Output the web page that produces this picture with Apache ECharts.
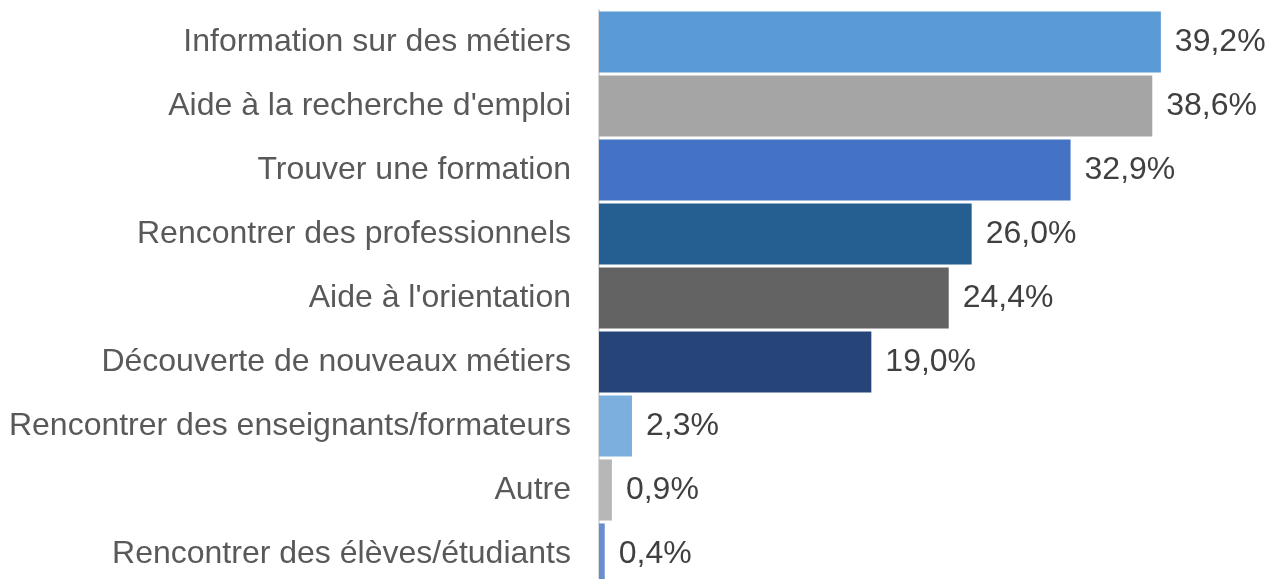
<!DOCTYPE html>
<html>
<head>
<meta charset="utf-8">
<script src="https://cdn.jsdelivr.net/npm/echarts@6/dist/echarts.min.js"></script>
<style>
  html, body { margin: 0; padding: 0; background: #ffffff; overflow: hidden; }
  #chart { width: 1267px; height: 592px; }
</style>
</head>
<body>
<div id="chart"></div>
<script>
const categories = [
  "Information sur des métiers",
  "Aide à la recherche d'emploi",
  "Trouver une formation",
  "Rencontrer des professionnels",
  "Aide à l'orientation",
  "Découverte de nouveaux métiers",
  "Rencontrer des enseignants/formateurs",
  "Autre",
  "Rencontrer des élèves/étudiants"
];
const values = [39.2, 38.6, 32.9, 26.0, 24.4, 19.0, 2.3, 0.9, 0.4];
const barColors = ["#5B9BD5", "#A5A5A5", "#4472C4", "#255E91", "#636363", "#264478", "#7CAFDD", "#B7B7B7", "#698ED0"];

const chart = echarts.init(document.getElementById('chart'), null, { renderer: 'canvas' });
const FONT = "'Liberation Sans', Arial, sans-serif";

chart.setOption({
  animation: false,
  backgroundColor: '#ffffff',
  grid: { left: 599, top: 10, width: 645, height: 576, containLabel: false },
  xAxis: {
    type: 'value', min: 0, max: 45,
    show: false,
    splitLine: { show: false }
  },
  yAxis: {
    type: 'category',
    inverse: true,
    data: categories,
    axisLine: { show: true, lineStyle: { color: '#D9D9D9', width: 2 } },
    axisTick: { show: false },
    axisLabel: {
      margin: 28,
      color: '#595959',
      fontSize: 32,
      fontFamily: FONT,
      padding: [3, 0, 0, 0]
    }
  },
  series: [{
    type: 'bar',
    barCategoryGap: '4.5%',
    data: values.map((v, i) => ({ value: v, itemStyle: { color: barColors[i] } })),
    label: {
      show: true,
      position: 'right',
      distance: 14,
      color: '#404040',
      fontSize: 32,
      fontFamily: FONT,
      padding: [3, 0, 0, 0],
      formatter: p => p.value.toFixed(1).replace('.', ',') + '%'
    }
  }]
});
</script>
</body>
</html>
